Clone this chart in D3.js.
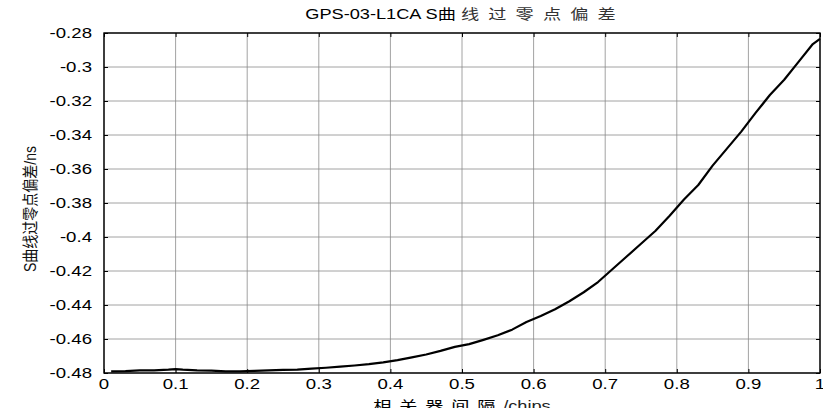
<!DOCTYPE html>
<html>
<head>
<meta charset="utf-8">
<script src="https://cdn.jsdelivr.net/npm/d3@7"></script>
<style>
  html, body { margin: 0; padding: 0; background: #fff; }
  svg { display: block; font-family: "Liberation Sans", Arial, "Noto Sans CJK SC", sans-serif; }
</style>
</head>
<body>
<svg id="chart" width="823" height="408"></svg>
<script>
// Correlator spacing (chips) and zero-crossing bias of the S-curve (ns)
const spacing = [0.01, 0.03, 0.05, 0.07, 0.09, 0.10, 0.11, 0.13, 0.15, 0.17, 0.19,
  0.21, 0.23, 0.25, 0.27, 0.29, 0.31, 0.33, 0.35, 0.37, 0.39, 0.41, 0.43, 0.45,
  0.47, 0.49, 0.51, 0.53, 0.55, 0.57, 0.59, 0.61, 0.63, 0.65, 0.67, 0.69, 0.71,
  0.73, 0.75, 0.77, 0.79, 0.81, 0.83, 0.85, 0.87, 0.89, 0.91, 0.93, 0.95, 0.97,
  0.99, 1.00];
const bias = [-0.4791, -0.4789, -0.4785, -0.4784, -0.4780, -0.4777, -0.4780,
  -0.4784, -0.4786, -0.4791, -0.4791, -0.4788, -0.4784, -0.4782, -0.4780, -0.4774,
  -0.4769, -0.4763, -0.4756, -0.4748, -0.4738, -0.4724, -0.4708, -0.4691, -0.4670,
  -0.4646, -0.4630, -0.4605, -0.4578, -0.4545, -0.4500, -0.4465, -0.4425, -0.4378,
  -0.4325, -0.4265, -0.4190, -0.4115, -0.4040, -0.3965, -0.3875, -0.3780, -0.3694,
  -0.3580, -0.3480, -0.3380, -0.3270, -0.3165, -0.3075, -0.2970, -0.2865, -0.2835];

const xTicks = [0, 0.1, 0.2, 0.3, 0.4, 0.5, 0.6, 0.7, 0.8, 0.9, 1];
const xTickLabels = ["0", "0.1", "0.2", "0.3", "0.4", "0.5", "0.6", "0.7", "0.8", "0.9", "1"];
const yTicks = [-0.28, -0.30, -0.32, -0.34, -0.36, -0.38, -0.40, -0.42, -0.44, -0.46, -0.48];
const yTickLabels = ["-0.28", "-0.3", "-0.32", "-0.34", "-0.36", "-0.38", "-0.4", "-0.42", "-0.44", "-0.46", "-0.48"];

const titleMain = "GPS-03-L1CA S曲";
const titleRest = "线过零点偏差";
const xLabelCn = "相关器间隔";
const xLabelUnit = "/chips";
const yLabel = "S曲线过零点偏差/ns";

const plotLeft = 104, plotRight = 820, plotTop = 33, plotBottom = 373;
const stretch = 1.33;

const svg = d3.select("#chart");
const x = d3.scaleLinear().domain([0, 1]).range([plotLeft, plotRight]);
const y = d3.scaleLinear().domain([-0.48, -0.28]).range([plotBottom, plotTop]);

// grid
const grid = svg.append("g").attr("stroke", "#8a8a8a").attr("stroke-width", 0.8);
grid.selectAll(".gx").data(xTicks).join("line")
  .attr("x1", d => x(d)).attr("x2", d => x(d))
  .attr("y1", plotTop).attr("y2", plotBottom);
grid.selectAll(".gy").data(yTicks).join("line")
  .attr("x1", plotLeft).attr("x2", plotRight)
  .attr("y1", d => y(d)).attr("y2", d => y(d));

// inward tick marks on all four sides
function ticks(axis, tx, ty) {
  const g = svg.append("g").attr("transform", `translate(${tx},${ty})`).call(axis);
  g.select(".domain").remove();
  g.selectAll("text").remove();
  g.selectAll("line").attr("stroke", "#000").attr("stroke-width", 1);
}
ticks(d3.axisBottom(x).tickValues(xTicks).tickSize(-4).tickFormat(""), 0, plotBottom);
ticks(d3.axisTop(x).tickValues(xTicks).tickSize(-4).tickFormat(""), 0, plotTop);
ticks(d3.axisLeft(y).tickValues(yTicks).tickSize(-4).tickFormat(""), plotLeft, 0);
ticks(d3.axisRight(y).tickValues(yTicks).tickSize(-4).tickFormat(""), plotRight, 0);

// curve
const line = d3.line().x((d, i) => x(spacing[i])).y(d => y(d));
svg.append("path").datum(bias)
  .attr("d", line)
  .attr("fill", "none")
  .attr("stroke", "#000")
  .attr("stroke-width", 2.2)
  .attr("stroke-linejoin", "round");

// box
svg.append("rect")
  .attr("x", plotLeft).attr("y", plotTop)
  .attr("width", plotRight - plotLeft).attr("height", plotBottom - plotTop)
  .attr("fill", "none").attr("stroke", "#000").attr("stroke-width", 1.4);

// stretched text helper
function label(px, py, anchor, sx, sy, rot) {
  const g = svg.append("g")
    .attr("transform", `translate(${px},${py})` + (rot ? ` rotate(${rot})` : "") + ` scale(${sx},${sy})`);
  return g.append("text").attr("text-anchor", anchor).attr("font-size", 14).attr("fill", "#000");
}

xTicks.forEach((t, i) => {
  label(x(t), 389, "middle", stretch, 1).text(xTickLabels[i]);
});
yTicks.forEach((t, i) => {
  label(92, y(t) + 5, "end", stretch, 1).text(yTickLabels[i]);
});

// title
const tt = label(465, 19, "middle", 1.3, 1);
tt.append("tspan").text(titleMain);
tt.append("tspan").attr("dx", 4).attr("letter-spacing", 7).attr("fill", "#333").text(titleRest);

// x axis title
const xt = label(462, 411, "middle", 1.3, 1);
xt.append("tspan").attr("letter-spacing", 6).text(xLabelCn);
xt.append("tspan").attr("fill", "#222").text(xLabelUnit);

// y axis title
label(36, 209, "middle", 1, 1.15, -90).attr("fill", "#111").text(yLabel);
</script>
</body>
</html>
